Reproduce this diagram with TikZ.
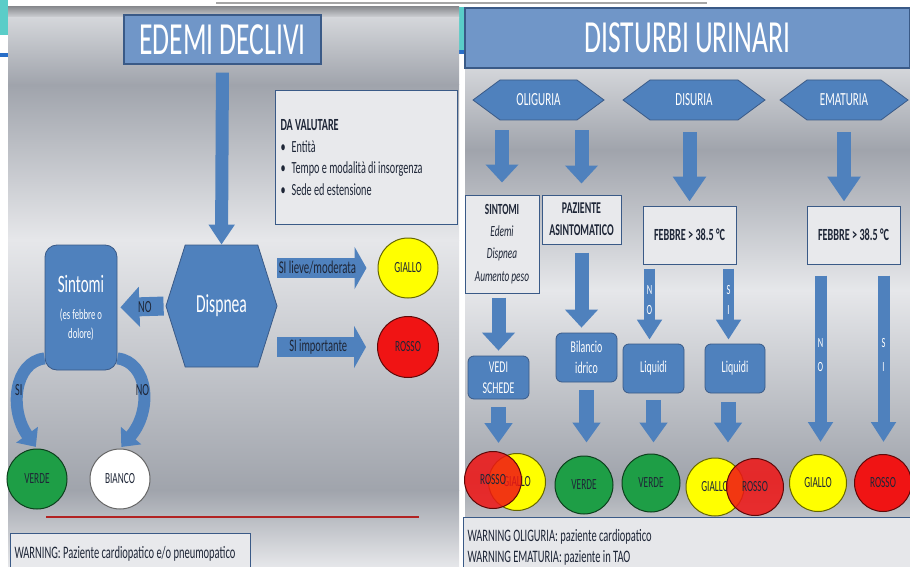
\documentclass[tikz,border=0pt]{standalone}
\usepackage{fontspec}
\setmainfont{Carlito}[FakeStretch=0.6]
\usetikzlibrary{arrows.meta,shapes.symbols}

\definecolor{fillblue}{RGB}{79,129,189}
\definecolor{titleblue}{RGB}{112,150,200}
\definecolor{edgeblue}{RGB}{58,90,135}
\definecolor{boxgray}{RGB}{232,233,236}
\definecolor{inkdark}{RGB}{30,38,55}
\definecolor{lampgreen}{RGB}{30,158,70}
\definecolor{lampyellow}{RGB}{255,255,0}
\definecolor{lampred}{RGB}{240,20,20}
\definecolor{linered}{RGB}{178,34,34}
\definecolor{tealedge}{RGB}{90,205,200}
\definecolor{sideblue}{RGB}{40,110,200}
\definecolor{bgshadow}{RGB}{140,142,146}
\definecolor{bgtop}{RGB}{212,214,218}
\definecolor{bgdark}{RGB}{160,164,172}
\definecolor{bglight}{RGB}{230,231,234}
\definecolor{bgmid}{RGB}{190,193,198}

\begin{document}
\begin{tikzpicture}[x=1pt, y=-1pt,
  titlebox/.style={draw=edgeblue, fill=titleblue, line width=1.2pt, text=white, inner sep=0pt,
    font=\fontsize{46}{48}\selectfont},
  boxlight/.style={draw=edgeblue, fill=boxgray, line width=1pt, text=inkdark, align=center,
    inner sep=4pt, font=\fontsize{16}{21.5}\selectfont},
  roundblue/.style={draw=edgeblue, fill=fillblue, line width=0.8pt, rounded corners=6pt, text=white,
    align=center, inner sep=2pt, font=\fontsize{16.5}{21}\selectfont},
  hexblue/.style={signal, signal to=west and east, draw=edgeblue, fill=fillblue, line width=0.8pt,
    text=white, inner sep=0pt},
  lamp/.style={circle, fill=#1, draw=#1!40!black, line width=1pt, text=inkdark, inner sep=0pt,
    minimum size=57pt, font=\fontsize{15.5}{17}\selectfont},
  blockarrow/.style n args={3}{draw=fillblue, line width=#1, -{Triangle[width=#2, length=#3]}},
  arrowtext/.style={text=inkdark, font=\fontsize{17}{19}\selectfont},
  lettertext/.style={text=white, align=center, font=\fontsize{14}{#1}\selectfont}]

\useasboundingbox (0,0) rectangle (910,567);
\fill[white] (0,0) rectangle (910,567);
\fill[tealedge] (0,0) rectangle (8,35);
\fill[sideblue] (0,53) rectangle (8,57);
\fill[tealedge] (459,7) rectangle (465,50);
\fill[sideblue] (459,50) rectangle (465,54);
\draw[gray!70, line width=2pt] (216,3) -- (707,3);

\shade[top color=bgshadow, bottom color=bgtop] (8,7) rectangle (459,18);
\shade[top color=bgtop, bottom color=bgdark] (8,18) rectangle (459,85);
\shade[top color=bgdark, bottom color=bglight] (8,85) rectangle (459,240);
\shade[top color=bglight, bottom color=bgdark] (8,240) rectangle (459,490);
\shade[top color=bgdark, bottom color=bglight] (8,490) rectangle (459,567);

\shade[top color=bgtop, bottom color=bgdark] (465,68) rectangle (910,150);
\shade[top color=bgdark, bottom color=bglight] (465,150) rectangle (910,290);
\shade[top color=bglight, bottom color=bgdark] (465,290) rectangle (910,480);
\shade[top color=bgdark, bottom color=bgmid] (465,480) rectangle (910,517);

% edemi declivi
\node[titlebox, minimum width=197pt, minimum height=49pt] (edemi) at (222.5,39.5) {EDEMI DECLIVI};
\node[boxlight, anchor=north west, text width=172pt, inner xsep=5pt, minimum height=134pt, align=left,
  font=\fontsize{17}{21.5}\selectfont] (valuta) at (275,90)
  {\spaceskip=0pt\xspaceskip=0pt
   \textbf{DA VALUTARE}\\[0.5pt]
   \textbullet\hspace{6pt}Entità\\
   \textbullet\hspace{6pt}Tempo e modalità di insorgenza\\
   \textbullet\hspace{6pt}Sede ed estensione};
\node[hexblue, signal pointer angle=145, minimum width=111pt, minimum height=122pt,
  font=\fontsize{26}{28}\selectfont] (dysp) at (221.5,306) {Dispnea};
\node[roundblue, rounded corners=12pt, minimum width=72pt, minimum height=125pt,
  font=\fontsize{14.5}{19}\selectfont] (sint) at (81,307.5)
  {{\fontsize{25}{26}\selectfont Sintomi}\\[8pt](es febbre o\\dolore)};
\node[lamp=lampyellow, minimum size=60pt] (gialloL) at (408,268) {GIALLO};
\node[lamp=lampred, minimum size=61pt] (rossoL) at (408,347) {ROSSO};
\node[lamp=lampgreen, minimum size=60pt] (verdeL) at (37,479) {VERDE};
\node[lamp=white, minimum size=60pt] (biancoL) at (120,479) {BIANCO};

\draw[blockarrow={13pt}{25pt}{20pt}, shorten <=8pt] (edemi.south) -- (dysp.north);
\draw[blockarrow={19pt}{39pt}{19pt}, shorten <=2pt, shorten >=3pt] (dysp.west) -- (sint.east)
  node[arrowtext, pos=.43] {NO};
\draw[blockarrow={20pt}{42pt}{12pt}, shorten >=11pt] (dysp.east |- gialloL.west) -- (gialloL.west)
  node[arrowtext, font=\fontsize{18}{20}\selectfont, pos=.4] {SI lieve/moderata};
\draw[blockarrow={20pt}{42pt}{12pt}, shorten >=11pt] (dysp.east |- rossoL.west) -- (rossoL.west)
  node[arrowtext, font=\fontsize{17.5}{20}\selectfont, pos=.41] {SI importante};
\draw[blockarrow={12pt}{26pt}{15pt}, shorten >=2pt] ([yshift=12pt]sint.south west)
  .. controls (14,362) and (9,410) .. (verdeL.north) node[arrowtext, pos=.5] {SI};
\draw[blockarrow={12pt}{26pt}{15pt}, shorten >=2pt] ([yshift=12pt]sint.south east)
  .. controls (148,362) and (153,410) .. (biancoL.north) node[arrowtext, pos=.5] {NO};

\draw[linered, line width=1.5pt] (46,517) -- (419,517);
\node[boxlight, anchor=north west, text width=232pt, minimum height=40pt, align=left,
  font=\fontsize{17.5}{21}\selectfont] (warnL) at (10,533)
  {\spaceskip=0pt\xspaceskip=0pt WARNING: Paziente cardiopatico e/o pneumopatico};

% disturbi urinari
\node[titlebox, minimum width=445pt, minimum height=60pt] (urin) at (687.5,38) {DISTURBI URINARI};
\node[hexblue, signal pointer angle=73, minimum width=131pt, minimum height=40pt,
  font=\fontsize{18.5}{20}\selectfont] (olig) at (538.5,100) {OLIGURIA};
\node[hexblue, signal pointer angle=73, minimum width=142pt, minimum height=40pt,
  font=\fontsize{18.5}{20}\selectfont] (dis) at (694,100) {DISURIA};
\node[hexblue, signal pointer angle=73, minimum width=128pt, minimum height=40pt,
  font=\fontsize{18.5}{20}\selectfont] (emat) at (844,100) {EMATURIA};

\node[boxlight, minimum width=74pt, minimum height=98pt, font=\fontsize{15.5}{22.3}\selectfont] (sintO) at (502,244)
  {\textbf{SINTOMI}\\\textit{Edemi}\\\textit{Dispnea}\\\textit{Aumento peso}};
\node[boxlight, minimum width=79pt, minimum height=49pt, font=\fontsize{16.5}{22}\selectfont\bfseries] (paz) at (581.5,219.5)
  {PAZIENTE\\ASINTOMATICO};
\node[boxlight, minimum width=93pt, minimum height=58pt, font=\fontsize{17}{18}\selectfont\bfseries] (febD) at (689.5,235)
  {FEBBRE > 38.5 °C};
\node[boxlight, minimum width=93pt, minimum height=58pt, font=\fontsize{17}{18}\selectfont\bfseries] (febE) at (853.5,235)
  {FEBBRE > 38.5 °C};

\node[roundblue, minimum width=61pt, minimum height=43pt] (vedi) at (498.5,377.5) {VEDI\\SCHEDE};
\node[roundblue, minimum width=61pt, minimum height=49pt] (bil) at (586.5,357.5) {Bilancio\\idrico};
\node[roundblue, minimum width=61pt, minimum height=49pt] (liqN) at (653.5,368.5) {Liquidi};
\node[roundblue, minimum width=60pt, minimum height=49pt] (liqS) at (735,368.5) {Liquidi};

\node[lamp=lampyellow] (rgG) at (517,482) {GIALLO};
\node[lamp=lampred, fill opacity=.85, text opacity=1] (rgR) at (493,480) {ROSSO};
\node[lamp=lampgreen, minimum size=58pt] (ver1) at (584,485) {VERDE};
\node[lamp=lampgreen, minimum size=58pt] (ver2) at (651,483) {VERDE};
\node[lamp=lampyellow, minimum size=58pt] (grG) at (715,487) {GIALLO};
\node[lamp=lampred, fill opacity=.85, text opacity=1] (grR) at (755,487) {ROSSO};
\node[lamp=lampyellow] (emG) at (818,483) {GIALLO};
\node[lamp=lampred] (emR) at (883,483) {ROSSO};

\draw[blockarrow={14pt}{32pt}{18pt}, shorten <=10pt, shorten >=12pt] (sintO.north |- olig.south) -- (sintO.north);
\draw[blockarrow={14pt}{32pt}{18pt}, shorten <=10pt, shorten >=11pt] (paz.north |- olig.south) -- (paz.north);
\draw[blockarrow={14pt}{32pt}{25pt}, shorten <=12pt, shorten >=4pt] (febD.north |- dis.south) -- (febD.north);
\draw[blockarrow={14pt}{32pt}{25pt}, shorten <=12pt, shorten >=4pt] (emat.south) -- (emat.south |- febE.north);

\draw[blockarrow={11pt}{24pt}{20pt}, shorten <=4pt, shorten >=4pt] ([xshift=7pt]febD.south west)
  -- ([xshift=7pt]febD.south west |- liqN.north) node[lettertext=20, pos=.45] {N\\O};
\draw[blockarrow={11pt}{24pt}{20pt}, shorten <=4pt, shorten >=4pt] ([xshift=-8pt]febD.south east)
  -- ([xshift=-8pt]febD.south east |- liqS.north) node[lettertext=20, pos=.45] {S\\I};
\draw[blockarrow={12pt}{24pt}{20pt}, shorten <=11pt, shorten >=12pt] ([xshift=14pt]febE.south west)
  -- ([xshift=14pt]febE.south west |- emG.north) node[lettertext=24, pos=.476] {N\\O};
\draw[blockarrow={12pt}{24pt}{20pt}, shorten <=11pt, shorten >=12pt] ([xshift=-17pt]febE.south east)
  -- ([xshift=-17pt]febE.south east |- emR.north) node[lettertext=24, pos=.476] {S\\I};

\draw[blockarrow={14pt}{32pt}{18pt}, shorten <=4pt, shorten >=5pt] (vedi.north |- sintO.south) -- (vedi.north);
\draw[blockarrow={14pt}{32pt}{18pt}, shorten <=8pt, shorten >=5pt] (paz.south) -- (paz.south |- bil.north);
\draw[blockarrow={15pt}{27pt}{20pt}, shorten <=8pt, shorten >=8pt] (vedi.south) -- (vedi.south |- rgR.north);
\draw[blockarrow={15pt}{27pt}{20pt}, shorten <=8pt, shorten >=13pt] (bil.south) -- (bil.south |- ver1.north);
\draw[blockarrow={15pt}{27pt}{20pt}, shorten <=7pt, shorten >=11pt] (liqN.south) -- (liqN.south |- ver2.north);
\draw[blockarrow={15pt}{27pt}{20pt}, shorten <=9pt, shorten >=15pt] ([xshift=-7pt]liqS.south)
  -- ([xshift=-7pt]liqS.south |- grG.north);

\node[boxlight, fill=bglight, anchor=north west, text width=440pt, minimum height=60pt, align=left,
  font=\fontsize{17.5}{21}\selectfont] (warnR) at (463,517)
  {\spaceskip=0pt\xspaceskip=0pt WARNING OLIGURIA: paziente cardiopatico\\WARNING EMATURIA: paziente in TAO};
\end{tikzpicture}
\end{document}
